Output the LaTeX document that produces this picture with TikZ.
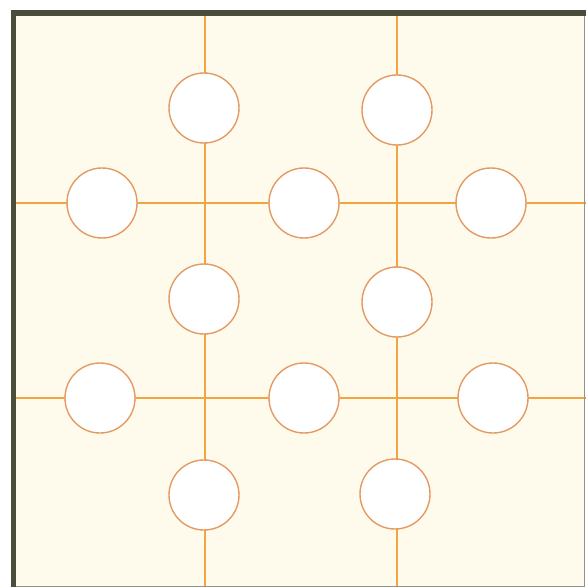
\documentclass[tikz,border=0pt]{standalone}
\begin{document}
\begin{tikzpicture}[x=0.5pt,y=-0.5pt,
  ring/.style={circle,draw=ringc,fill=white,line width=0.7pt,minimum size=35pt,inner sep=0pt},
  wire/.style={draw=wirec,line width=1.1pt}]
\definecolor{cream}{HTML}{FFFBEC}
\definecolor{wirec}{HTML}{F2A440}
\definecolor{ringc}{HTML}{E49A62}
\definecolor{framec}{HTML}{4A4C3C}
\useasboundingbox (0,0) rectangle (586,587);
\fill[white] (0,0) rectangle (586,587);
\fill[cream] (13,13) rectangle (584,586);
% end points
\coordinate (vt1) at (205,13);  \coordinate (vb1) at (205,587);
\coordinate (vt2) at (397,13);  \coordinate (vb2) at (397,587);
\coordinate (hl1) at (13,203);  \coordinate (hr1) at (586,203);
\coordinate (hl2) at (13,398);  \coordinate (hr2) at (586,398);
\draw[wire] (vt1) -- (vb1);
\draw[wire] (vt2) -- (vb2);
\draw[wire] (hl1) -- (hr1);
\draw[wire] (hl2) -- (hr2);
% rings
\node[ring] (a1) at (204,108) {};
\node[ring] (a2) at (397,110) {};
\node[ring] (b1) at (102,203) {};
\node[ring] (b2) at (304,203) {};
\node[ring] (b3) at (491,203) {};
\node[ring] (c1) at (204,299) {};
\node[ring] (c2) at (397,302) {};
\node[ring] (d1) at (100,398) {};
\node[ring] (d2) at (304,398) {};
\node[ring] (d3) at (493,398) {};
\node[ring] (e1) at (204,495) {};
\node[ring] (e2) at (395,494) {};
% frame
\draw[framec!60,line width=0.5pt] (584,13) -- (584,586) -- (13,586);
\draw[framec,line width=2.7pt] (13.5,587) -- (13.5,13) -- (586,13);
\end{tikzpicture}
\end{document}
